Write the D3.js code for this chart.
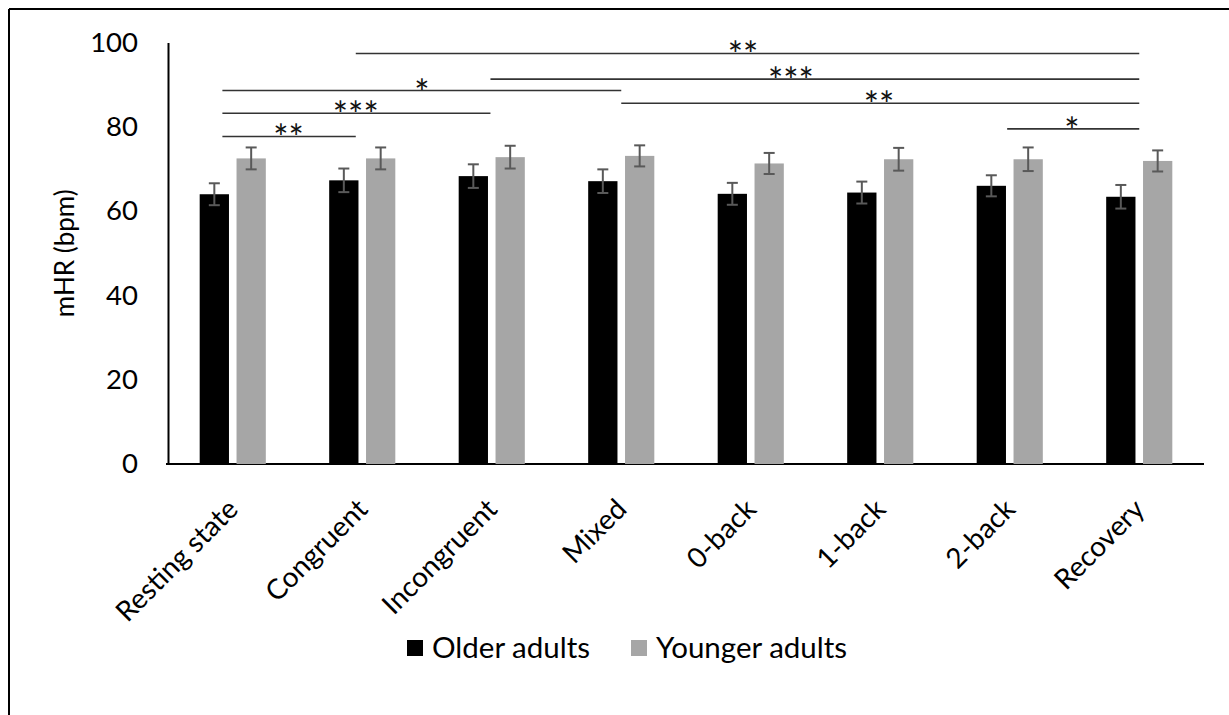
<!DOCTYPE html>
<html>
<head>
<meta charset="utf-8">
<script src="https://cdn.jsdelivr.net/npm/d3@7"></script>
<style>
  html, body { margin: 0; padding: 0; background: #fff; }
  svg { display: block; font-family: Lato, "Open Sans", sans-serif; }
</style>
</head>
<body>
<svg id="chart" width="1229" height="715"></svg>
<script>
// Mean heart rate per task condition, by age group
const categories = ["Resting state", "Congruent", "Incongruent", "Mixed", "0-back", "1-back", "2-back", "Recovery"];
const seriesNames = ["Older adults", "Younger adults"];
const olderValues = [64.0, 67.3, 68.3, 67.1, 64.1, 64.4, 66.0, 63.4];
const youngerValues = [72.5, 72.5, 72.8, 73.1, 71.3, 72.3, 72.3, 71.9];
const olderErrors = [2.6, 2.8, 2.8, 2.8, 2.6, 2.6, 2.5, 2.8];
const youngerErrors = [2.6, 2.6, 2.7, 2.5, 2.5, 2.7, 2.8, 2.5];
const yTicks = [0, 20, 40, 60, 80, 100];

// Significance brackets (positions in category-index units, level in bpm)
const sigStart = [-0.08, -0.08, -0.08, 0.95, 1.99, 3.0, 5.98];
const sigEnd = [0.95, 1.99, 3.0, 7.0, 7.0, 7.0, 7.0];
const sigLevel = [77.7, 83.2, 88.6, 97.4, 91.3, 85.6, 79.5];
const sigLabel = ["**", "***", "*", "**", "***", "**", "*"];
const sigLabelPos = [0.43, 0.95, 1.46, 3.94, 4.31, 4.99, 6.48];

const colors = { "Older adults": "#000000", "Younger adults": "#a6a6a6" };

const svg = d3.select("#chart");
const plotLeft = 168, plotRight = 1204, plotTop = 42.5, plotBottom = 464;

const x = d3.scaleBand().domain(categories).range([plotLeft, plotRight]).padding(0);
const xInner = d3.scaleBand().domain(seriesNames).range([0, x.bandwidth()])
  .paddingInner(0.205).paddingOuter(0.86);
const y = d3.scaleLinear().domain([0, 100]).range([plotBottom, plotTop]);
const idx = d3.scaleLinear().domain([0, 1])
  .range([x(categories[0]) + x.bandwidth() / 2, x(categories[1]) + x.bandwidth() / 2]);

// Outer frame (left and top edges)
svg.append("line").attr("x1", 9).attr("x2", 9).attr("y1", 9).attr("y2", 715)
  .attr("stroke", "#000").attr("stroke-width", 2);
svg.append("line").attr("x1", 9).attr("x2", 1229).attr("y1", 9).attr("y2", 9)
  .attr("stroke", "#000").attr("stroke-width", 2);

// Y axis
const yAxis = svg.append("g").attr("transform", `translate(${plotLeft},0)`)
  .call(d3.axisLeft(y).tickValues(yTicks).tickSize(0).tickPadding(30));
yAxis.select(".domain").attr("stroke", "#000").attr("stroke-width", 2);
yAxis.selectAll("text").attr("font-size", 27.5).attr("fill", "#000").attr("font-family", "Lato");

// X axis
const xAxis = svg.append("g").attr("transform", `translate(0,${plotBottom})`)
  .call(d3.axisBottom(x).tickSize(0).tickSizeOuter(0));
xAxis.select(".domain").attr("stroke", "#000").attr("stroke-width", 2)
  .attr("d", `M${plotLeft - 2},0H${plotRight}`);
xAxis.selectAll("text")
  .attr("font-size", 28).attr("fill", "#000").attr("font-family", "Lato")
  .attr("text-anchor", "end")
  .attr("dy", 0).attr("y", 0)
  .attr("transform", `translate(7,47) rotate(-45)`);

// Bars
const rows = categories.map((c, i) => ({
  cat: c,
  vals: [
    { s: "Older adults", v: olderValues[i], e: olderErrors[i] },
    { s: "Younger adults", v: youngerValues[i], e: youngerErrors[i] }
  ]
}));

const groups = svg.append("g").selectAll("g").data(rows).join("g")
  .attr("transform", d => `translate(${x(d.cat)},0)`);

groups.selectAll("rect").data(d => d.vals).join("rect")
  .attr("x", d => xInner(d.s))
  .attr("width", xInner.bandwidth())
  .attr("y", d => y(d.v))
  .attr("height", d => y(0) - y(d.v))
  .attr("fill", d => colors[d.s]);

// Error bars
const eb = groups.selectAll("g.err").data(d => d.vals).join("g").attr("class", "err")
  .attr("stroke", "#595959").attr("stroke-width", 2);
const cx = d => xInner(d.s) + xInner.bandwidth() / 2;
eb.append("line")
  .attr("x1", cx).attr("x2", cx)
  .attr("y1", d => y(d.v + d.e)).attr("y2", d => y(d.v - d.e));
eb.append("line")
  .attr("x1", d => cx(d) - 5.5).attr("x2", d => cx(d) + 5.5)
  .attr("y1", d => y(d.v + d.e)).attr("y2", d => y(d.v + d.e));
eb.append("line")
  .attr("x1", d => cx(d) - 5.5).attr("x2", d => cx(d) + 5.5)
  .attr("y1", d => y(d.v - d.e)).attr("y2", d => y(d.v - d.e));

// Significance brackets
const sig = sigLabel.map((l, i) => ({ a: sigStart[i], b: sigEnd[i], lv: sigLevel[i], l, p: sigLabelPos[i] }));
const sg = svg.append("g").selectAll("g").data(sig).join("g");
sg.append("line")
  .attr("x1", d => idx(d.a)).attr("x2", d => idx(d.b))
  .attr("y1", d => y(d.lv)).attr("y2", d => y(d.lv))
  .attr("stroke", "#333").attr("stroke-width", 1.6);
sg.append("text")
  .attr("x", d => idx(d.p)).attr("y", d => y(d.lv) + 15)
  .attr("text-anchor", "middle")
  .attr("font-size", 36).attr("font-family", "Lato")
  .attr("fill", "#111")
  .text(d => d.l);

// Y axis title
svg.append("text")
  .attr("transform", `translate(74,${(plotTop + plotBottom) / 2}) rotate(-90)`)
  .attr("text-anchor", "middle")
  .attr("font-size", 26).attr("font-family", "Lato")
  .text("mHR (bpm)");

// Legend
const legend = svg.append("g").attr("transform", "translate(0,648)");
const legX = [407, 631];
seriesNames.forEach((s, i) => {
  legend.append("rect").attr("x", legX[i]).attr("y", -8).attr("width", 16).attr("height", 16)
    .attr("fill", colors[s]);
  legend.append("text").attr("x", legX[i] + 25).attr("y", 0).attr("dy", "0.35em")
    .attr("font-size", 29.5).attr("font-family", "Lato").text(s);
});
</script>
</body>
</html>
